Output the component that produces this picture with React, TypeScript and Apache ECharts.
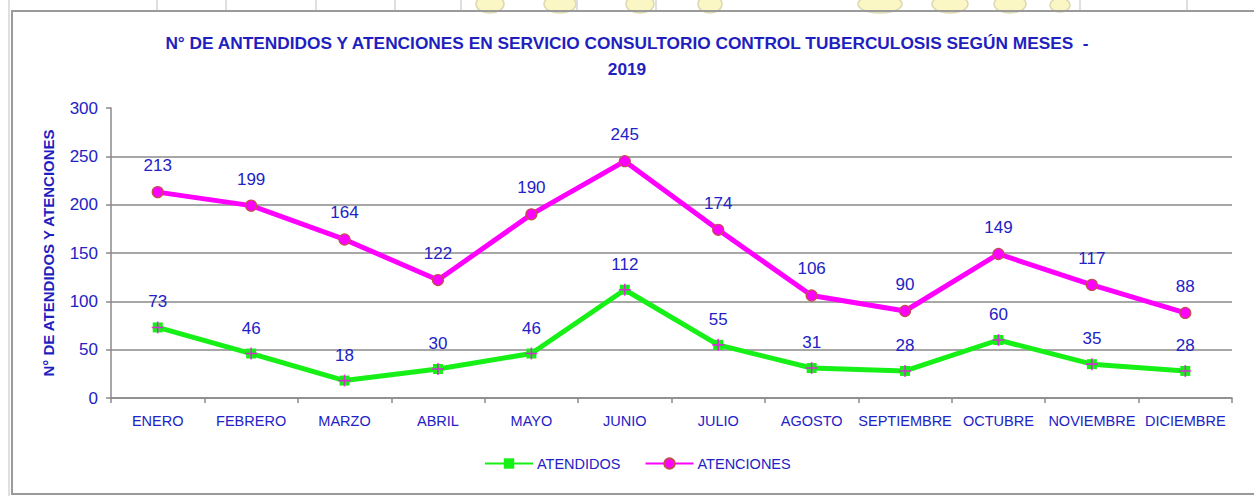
import React, { useEffect, useRef } from "react";
import * as echarts from "echarts";

const months = ["ENERO", "FEBRERO", "MARZO", "ABRIL", "MAYO", "JUNIO", "JULIO", "AGOSTO", "SEPTIEMBRE", "OCTUBRE", "NOVIEMBRE", "DICIEMBRE"];
const atendidos = [73, 46, 18, 30, 46, 112, 55, 31, 28, 60, 35, 28];
const atenciones = [213, 199, 164, 122, 190, 245, 174, 106, 90, 149, 117, 88];
const yTicks = [0, 50, 100, 150, 200, 250, 300];
const titleText = "N° DE ANTENDIDOS Y ATENCIONES EN SERVICIO CONSULTORIO CONTROL TUBERCULOSIS SEGÚN MESES  -\n2019";
const yName = "N° DE ATENDIDOS Y ATENCIONES";
const seriesNames = ["ATENDIDOS", "ATENCIONES"];

const BLUE = "#2222c6";
const SANS = "'Liberation Sans', Arial, sans-serif";
const GREEN = "#17f017";
const MAGENTA = "#ff00ff";

export default function App() {
  const ref = useRef<HTMLDivElement>(null);
  useEffect(() => {
    document.body.style.margin = "0";
    const chart = echarts.init(ref.current!, null, { renderer: "svg" });
    const vlines = [9, 157, 226, 316, 395, 461, 577, 656, 1080, 1187].map((x) => ({
      type: "line",
      shape: { x1: x, y1: 0, x2: x, y2: x === 9 ? 496 : 10 },
      style: { stroke: "#d4d4d4", lineWidth: 1.5 },
      z: -5,
    }));
    const blobs = [
      [490, 4, 14, 9], [560, 4, 16, 9], [640, 4, 14, 9], [710, 4, 12, 9], [880, 4, 22, 9], [950, 4, 18, 9], [1010, 4, 16, 9], [1060, 5, 10, 7],
    ].map(([cx, cy, rx, ry]) => ({
      type: "ellipse",
      shape: { cx, cy, rx, ry },
      style: { fill: "#fbf7c4", stroke: "#dcd8b0", lineWidth: 1.5 },
      z: -6,
    }));
    chart.setOption({
      animation: false,
      backgroundColor: "#ffffff",
      title: {
        text: titleText,
        left: "center",
        top: 25,
        textStyle: { fontFamily: SANS, fontWeight: "bold", fontSize: 17.3, color: "#1f1fc0", lineHeight: 26 },
      },
      graphic: [
        ...blobs,
        ...vlines,
        {
          type: "rect",
          shape: { x: 12, y: 11, width: 1260, height: 483 },
          style: { fill: "none", stroke: "#9a9a9a", lineWidth: 2 },
          z: -4,
        },
      ],
      legend: {
        data: seriesNames,
        left: 479,
        top: 451,
        itemWidth: 48,
        itemHeight: 13,
        itemGap: 24,
        textStyle: { fontFamily: SANS, fontSize: 14.5, color: BLUE, padding: [0, 0, 0, -1] },
      },
      grid: { left: 111, right: 22, top: 108, bottom: 98 },
      xAxis: {
        type: "category",
        data: months,
        axisLine: { lineStyle: { color: "#8a8a8a", width: 1.5 } },
        axisTick: { show: true, length: 5, lineStyle: { color: "#8a8a8a", width: 1.5 } },
        axisLabel: { fontFamily: SANS, fontSize: 14.5, color: BLUE, margin: 15, interval: 0 },
      },
      yAxis: {
        type: "value",
        min: yTicks[0],
        max: yTicks[yTicks.length - 1],
        interval: 50,
        name: yName,
        nameLocation: "middle",
        nameGap: 55,
        nameTextStyle: { fontFamily: SANS, fontWeight: "bold", fontSize: 15, color: "#1f1fc0" },
        axisLine: { show: true, lineStyle: { color: "#8a8a8a", width: 1.5 } },
        axisTick: { show: true, length: 5, lineStyle: { color: "#8a8a8a", width: 1.5 } },
        axisLabel: { fontFamily: SANS, fontSize: 17, color: BLUE, margin: 13 },
        splitLine: {
          show: true,
          lineStyle: { color: ["#8a8a8a", "#8a8a8a", "#8a8a8a", "#8a8a8a", "#8a8a8a", "#8a8a8a", "rgba(0,0,0,0)"], width: 1.5 },
        },
      },
      series: [
        {
          name: seriesNames[0],
          type: "line",
          data: atendidos,
          symbol: "rect",
          symbolSize: 10,
          lineStyle: { color: GREEN, width: 5 },
          itemStyle: { color: GREEN },
          label: { show: true, position: "top", distance: 12, fontFamily: SANS, fontSize: 17, color: BLUE },
          z: 3,
        },
        {
          name: "plus",
          type: "scatter",
          data: atendidos,
          symbol: "path://M5.2,0 H6.8 V5.2 H12 V6.8 H6.8 V12 H5.2 V6.8 H0 V5.2 H5.2 Z",
          symbolSize: 12,
          itemStyle: { color: MAGENTA },
          silent: true,
          z: 4,
        },
        {
          name: seriesNames[1],
          type: "line",
          data: atenciones,
          symbol: "circle",
          symbolSize: 11,
          lineStyle: { color: MAGENTA, width: 5 },
          itemStyle: { color: MAGENTA, borderColor: "#c0504d", borderWidth: 1.2 },
          label: { show: true, position: "top", distance: 12, fontFamily: SANS, fontSize: 17, color: BLUE },
          z: 3,
        },
      ],
    });
    return () => chart.dispose();
  }, []);
  return <div ref={ref} style={{ position: "absolute", left: 0, top: 0, width: 1254, height: 496 }} />;
}
